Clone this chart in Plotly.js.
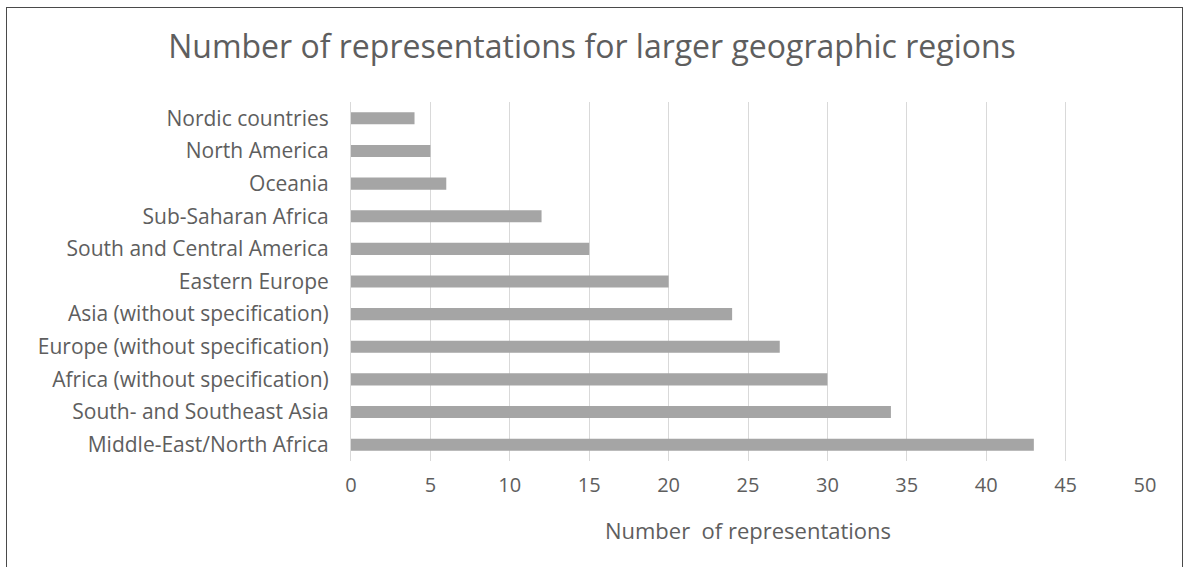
<!DOCTYPE html>
<html>
<head>
<meta charset="utf-8">
<script src="https://cdn.plot.ly/plotly-3.0.1.min.js"></script>
<style>
  html, body { margin: 0; padding: 0; background: #fff; }
  #wrap { position: relative; width: 1184px; height: 567px; overflow: hidden; }
  #chart { position: absolute; left: 0; top: 0; width: 1184px; height: 567px; }
  #frame { position: absolute; left: 6px; top: 7px; width: 1175px; height: 600px; border: 1.5px solid #4a4a4a; pointer-events: none; }
</style>
</head>
<body>
<div id="wrap">
  <div id="chart"></div>
  <div id="frame"></div>
</div>
<script>
const regions = [
  "Nordic countries",
  "North America",
  "Oceania",
  "Sub-Saharan Africa",
  "South and Central America",
  "Eastern Europe",
  "Asia (without specification)",
  "Europe (without specification)",
  "Africa (without specification)",
  "South- and Southeast Asia",
  "Middle-East/North Africa"
];
const representations = [4, 5, 6, 12, 15, 20, 24, 27, 30, 34, 43];
const xTicks = [0, 5, 10, 15, 20, 25, 30, 35, 40, 45, 50];

const textColor = "#5e5e5e";
const fontFamily = "'Open Sans', 'Noto Sans', sans-serif";

const trace = {
  type: "bar",
  orientation: "h",
  y: regions,
  x: representations,
  marker: { color: "#a5a5a5", line: { width: 0 } },
  hoverinfo: "x+y"
};

const layout = {
  width: 1184,
  height: 567,
  paper_bgcolor: "rgba(0,0,0,0)",
  plot_bgcolor: "#ffffff",
  margin: { l: 351, r: 39, t: 102, b: 106 },
  bargap: 0.63,
  showlegend: false,
  title: {
    text: "Number of representations for larger geographic regions",
    font: { family: fontFamily, size: 32, color: textColor },
    x: 0.5, xanchor: "center",
    y: 1 - 47 / 567, yanchor: "middle"
  },
  xaxis: {
    range: [0, 50],
    tickvals: xTicks,
    ticktext: xTicks.map(String),
    showgrid: true,
    gridcolor: "#d9d9d9",
    gridwidth: 1,
    zeroline: false,
    showline: false,
    ticks: "",
    ticklabelstandoff: 10,
    tickfont: { family: fontFamily, size: 20, color: textColor },
    title: {
      text: "Number  of representations",
      font: { family: fontFamily, size: 22, color: textColor },
      standoff: 26
    }
  },
  yaxis: {
    type: "category",
    categoryorder: "array",
    categoryarray: regions,
    autorange: "reversed",
    showgrid: false,
    zeroline: false,
    showline: true,
    linecolor: "#d9d9d9",
    linewidth: 1,
    ticks: "",
    ticklabelstandoff: 17,
    tickfont: { family: fontFamily, size: 21, color: textColor }
  }
};

Plotly.newPlot("chart", [trace], layout, { displayModeBar: false, staticPlot: true });
</script>
</body>
</html>
